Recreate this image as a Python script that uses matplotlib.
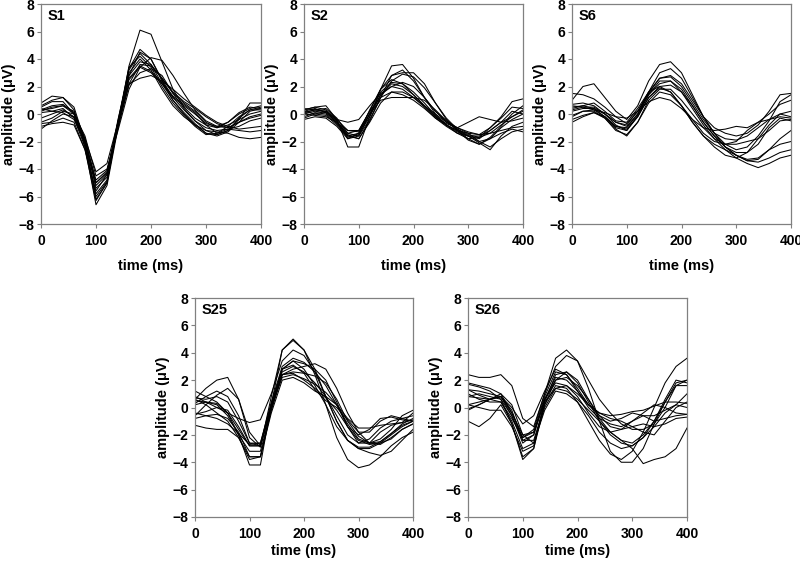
import numpy as np
import matplotlib
matplotlib.use("Agg")
import matplotlib.pyplot as plt

plt.rcParams['font.family'] = ['Liberation Sans', 'DejaVu Sans']
plt.rcParams['font.weight'] = 'bold'

time_ms = list(range(0, 401, 20))
x_ticks = [0, 100, 200, 300, 400]
y_ticks = [-8, -6, -4, -2, 0, 2, 4, 6, 8]
panel_names = ["S1", "S2", "S6", "S25", "S26"]

s1_traces = [
    [0.6, 1.0, 1.2, 0.5, -2.0, -6.2, -5.0, -0.8, 3.5, 6.1, 5.8, 3.8, 1.8, 0.5, -0.3, -0.8, -1.0, -0.6, 0.0, 0.4, 0.6],
    [0.8, 1.3, 1.2, 0.3, -2.4, -6.6, -5.2, -1.0, 2.8, 4.5, 4.0, 2.5, 1.2, 0.3, -0.5, -1.2, -1.5, -1.2, -0.3, 0.3, 0.5],
    [-1.1, -0.5, 0.0, -0.2, -2.0, -5.4, -4.6, -0.8, 2.8, 3.8, 3.6, 2.6, 1.5, 0.8, 0.2, -0.6, -1.0, -0.8, -0.4, 0.0, 0.2],
    [0.3, 0.6, 0.7, 0.1, -1.8, -5.0, -4.3, -1.0, 2.2, 3.6, 3.5, 2.6, 1.6, 0.9, 0.4, -0.2, -0.7, -1.0, -0.6, -0.3, -0.1],
    [-0.6, -0.3, 0.2, 0.0, -1.6, -4.5, -4.0, -1.2, 1.8, 3.4, 4.1, 3.9, 2.8, 1.5, 0.3, -0.5, -0.9, -1.0, -0.6, -0.2, 0.0],
    [0.3, 0.4, 0.6, 0.2, -1.8, -4.2, -3.6, -0.6, 2.2, 2.6, 2.8, 2.4, 1.8, 1.1, 0.5, -0.1, -0.6, -0.9, -1.1, -1.0, -0.9],
    [0.1, 0.2, 0.4, -0.3, -2.4, -5.8, -4.8, -0.6, 3.2, 4.4, 3.6, 2.2, 1.0, 0.0, -0.8, -1.4, -1.6, -1.3, -0.6, 0.2, 0.4],
    [-0.7, -0.6, -0.3, -0.6, -2.6, -5.6, -4.4, -0.4, 3.0, 4.0, 3.2, 1.8, 0.6, -0.2, -0.8, -1.2, -1.3, -1.4, -1.7, -1.8, -1.7],
    [0.5, 0.9, 0.9, 0.0, -2.2, -6.0, -4.9, -0.7, 3.3, 4.7, 4.0, 2.4, 1.0, 0.1, -0.7, -1.4, -1.5, -1.2, -0.4, 0.8, 0.8],
    [-0.3, 0.0, 0.3, -0.2, -2.1, -5.2, -4.4, -0.8, 2.5, 3.4, 3.0, 2.2, 1.2, 0.6, 0.0, -0.7, -0.9, -0.6, 0.1, 0.5, 0.4],
    [0.4, 0.2, 0.1, -0.4, -2.0, -4.8, -4.1, -0.9, 2.1, 3.0, 3.3, 2.8, 1.5, 0.4, -0.5, -1.0, -1.2, -1.1, -1.2, -1.3, -1.2],
    [-0.9, -0.7, -0.6, -0.8, -2.6, -6.3, -5.0, -0.5, 3.4, 4.2, 3.4, 2.0, 0.8, -0.1, -0.9, -1.5, -1.4, -0.9, -0.2, 0.3, 0.3],
    [0.2, 0.5, 0.6, 0.0, -1.9, -5.0, -4.2, -0.6, 2.6, 3.5, 3.1, 2.3, 1.3, 0.7, 0.1, -0.8, -1.4, -1.1, -0.9, -0.5, -0.3],
]

s2_traces = [
    [0.3, 0.5, 0.6, -0.4, -2.4, -2.4, -0.2, 1.8, 3.5, 3.6, 2.6, 1.2, 0.0, -0.8, -1.4, -1.8, -1.7, -1.0, -0.2, 0.9, 1.1],
    [0.2, 0.4, 0.1, -0.6, -1.4, -1.2, 0.2, 1.8, 2.8, 3.0, 3.0, 2.2, 0.8, -0.4, -1.2, -1.6, -1.8, -1.2, -0.6, -0.2, 0.2],
    [-0.2, 0.1, 0.0, -0.7, -1.6, -1.4, 0.0, 1.6, 2.3, 2.2, 1.6, 0.8, -0.1, -0.8, -1.2, -1.4, -1.5, -1.4, -1.2, -1.0, -0.9],
    [0.3, 0.5, 0.3, -0.4, -0.6, -0.4, 0.6, 1.5, 2.0, 2.3, 2.0, 1.2, 0.2, -0.6, -1.0, -0.6, -0.2, -0.4, -0.6, -0.5, -0.3],
    [-0.4, -0.2, -0.3, -0.9, -1.8, -1.4, 0.3, 1.8, 2.5, 2.2, 1.4, 0.6, -0.2, -0.8, -1.2, -1.8, -2.2, -1.8, -1.0, -0.4, 0.0],
    [0.2, 0.0, -0.1, -0.8, -1.7, -1.5, -0.2, 1.4, 2.2, 2.0, 1.4, 0.6, -0.2, -0.7, -1.0, -1.4, -2.0, -2.4, -1.8, -1.3, -1.1],
    [0.1, 0.3, 0.4, -0.3, -1.4, -1.6, -0.4, 1.2, 2.4, 2.9, 2.7, 1.9, 0.8, -0.3, -1.1, -1.6, -2.1, -2.6, -1.6, -0.9, -0.6],
    [0.0, 0.2, 0.1, -0.6, -1.5, -1.8, -0.6, 0.8, 1.6, 1.6, 1.2, 0.6, 0.0, -0.6, -1.1, -1.5, -1.7, -1.4, -0.8, -0.2, 0.3],
    [0.0, -0.1, -0.2, -0.6, -1.2, -1.3, 0.0, 1.0, 1.2, 1.2, 1.2, 1.0, 0.3, -0.5, -1.2, -1.9, -2.2, -1.7, -0.9, 0.0, 0.6],
    [0.1, 0.3, 0.2, -0.5, -1.6, -1.8, -0.5, 1.2, 2.8, 3.2, 2.4, 1.2, 0.2, -0.5, -1.0, -1.3, -1.5, -1.0, -0.3, 0.5, 0.4],
    [0.4, 0.3, 0.2, -0.5, -1.8, -1.6, 0.0, 1.4, 2.0, 1.8, 1.2, 0.5, -0.3, -0.9, -1.4, -1.6, -1.6, -1.2, -0.6, 0.2, 0.0],
    [-0.3, 0.0, 0.2, -0.4, -1.2, -1.2, 0.2, 1.2, 1.6, 1.4, 1.0, 0.4, -0.3, -0.8, -1.3, -1.6, -2.0, -1.8, -1.4, -1.1, -1.3],
]

s6_traces = [
    [1.0, 2.0, 2.2, 1.2, 0.2, -0.4, 0.6, 2.4, 3.6, 3.8, 3.0, 1.4, -0.2, -1.4, -2.2, -2.6, -2.4, -1.6, -0.5, 0.9, 1.4],
    [1.5, 1.4, 1.1, 0.5, -0.2, -0.7, 0.2, 1.5, 2.6, 2.8, 2.2, 1.0, -0.2, -1.0, -1.4, -1.6, -1.4, -0.8, 0.2, 1.4, 1.5],
    [0.4, 0.6, 0.4, -0.2, -0.9, -1.1, -0.2, 1.2, 1.9, 1.6, 0.6, -0.6, -1.6, -2.2, -2.6, -3.0, -3.3, -3.2, -2.6, -2.2, -2.0],
    [-0.6, -0.2, 0.1, -0.3, -1.2, -1.5, -0.6, 0.8, 1.6, 1.4, 0.6, -0.4, -1.4, -2.0, -2.2, -2.0, -1.2, -0.6, -0.4, -0.2, -0.3],
    [0.7, 0.8, 0.6, 0.0, -0.6, -0.9, 0.0, 1.4, 2.2, 2.4, 1.8, 0.6, -0.6, -1.6, -2.4, -3.0, -3.4, -3.5, -3.2, -2.8, -2.6],
    [-0.2, 0.2, 0.3, -0.2, -1.0, -1.2, -0.1, 1.4, 2.4, 2.4, 1.6, 0.4, -0.8, -1.8, -2.6, -3.2, -3.6, -3.9, -3.6, -3.2, -3.0],
    [0.2, 0.4, 0.4, 0.0, -0.6, -0.8, 0.2, 1.6, 2.6, 2.7, 2.0, 0.8, -0.4, -1.4, -1.8, -1.9, -1.6, -1.0, -0.4, 0.0, -0.2],
    [-0.4, -0.1, 0.1, -0.2, -0.9, -1.0, 0.0, 1.6, 3.0, 3.3, 2.6, 1.2, -0.2, -1.4, -2.4, -3.0, -3.4, -3.3, -2.6, -1.8, -1.2],
    [0.6, 0.5, 0.3, 0.1, -0.2, -0.3, 0.2, 0.9, 1.2, 1.0, 0.4, -0.4, -1.0, -1.2, -1.1, -0.9, -1.0, -0.6, 0.0, 0.7, 1.0],
    [0.3, 0.5, 0.5, 0.0, -0.8, -1.2, -0.2, 1.2, 2.0, 2.1, 1.6, 0.6, -0.6, -1.6, -2.4, -2.8, -2.8, -2.2, -1.0, -0.3, -0.5],
    [-0.1, 0.2, 0.2, -0.3, -1.1, -1.6, -0.6, 1.0, 1.8, 1.8, 1.0, 0.0, -1.0, -1.8, -2.2, -2.2, -2.0, -1.8, -1.2, -0.5, -0.4],
    [0.5, 0.6, 0.8, 0.2, -0.5, -0.6, 0.4, 1.6, 2.0, 1.6, 0.6, -0.6, -1.6, -2.4, -3.0, -3.2, -2.8, -1.8, -0.8, 0.0, 0.2],
]

s25_traces = [
    [0.6, 1.4, 2.0, 2.2, 0.6, -2.2, -2.9, 0.8, 4.2, 4.9, 4.2, 2.8, 0.8, -1.0, -2.4, -3.0, -3.0, -2.6, -2.0, -1.4, -1.0],
    [1.2, 0.8, 0.4, -0.4, -2.0, -4.2, -4.2, 0.2, 4.2, 5.0, 4.2, 2.4, 0.2, -2.2, -3.8, -4.4, -4.2, -3.6, -2.8, -2.2, -1.8],
    [-0.6, 0.2, 0.9, 1.4, 0.6, -1.8, -2.8, 0.0, 2.8, 3.4, 3.2, 2.8, 2.0, 0.4, -1.4, -2.6, -2.6, -1.8, -1.3, -1.1, -0.9],
    [-1.3, -1.5, -1.6, -1.6, -2.2, -3.6, -3.6, 0.0, 2.4, 2.6, 2.5, 2.3, 1.8, 0.6, -1.0, -2.1, -2.6, -2.5, -1.9, -1.2, -0.8],
    [0.6, 0.2, -0.4, -1.0, -2.2, -3.8, -3.6, -0.2, 2.6, 3.0, 2.6, 1.8, 0.8, -0.6, -2.0, -2.6, -2.3, -1.5, -1.0, -0.8, -0.6],
    [0.2, 0.4, 0.3, -0.4, -1.6, -2.8, -2.8, 0.0, 2.2, 2.4, 2.1, 1.7, 1.1, 0.2, -1.2, -2.3, -2.6, -2.3, -1.6, -0.6, -0.2],
    [0.8, 0.4, 0.0, -0.4, -0.8, -1.1, -0.9, 1.0, 3.4, 4.2, 3.8, 2.6, 0.8, -1.0, -2.4, -2.9, -2.9, -2.5, -1.9, -1.3, -1.0],
    [-0.5, -0.3, 0.0, -0.2, -1.4, -2.8, -2.8, 0.2, 2.8, 3.1, 2.5, 1.3, 0.5, 0.0, -0.9, -1.8, -1.8, -1.0, -0.6, -0.8, -1.0],
    [0.5, 0.4, 0.2, -0.6, -2.0, -3.2, -3.2, -0.2, 2.4, 2.8, 3.0, 3.2, 2.8, 1.4, -0.4, -1.8, -2.6, -2.7, -2.2, -1.6, -1.2],
    [-0.4, -0.6, -0.8, -1.2, -1.9, -2.7, -2.6, 0.2, 2.8, 3.4, 2.8, 1.6, 0.2, -1.4, -2.4, -3.0, -3.3, -3.5, -3.2, -2.4, -1.6],
    [0.3, 0.8, 1.2, 0.8, -0.6, -2.6, -2.8, 0.0, 2.4, 2.5, 2.0, 1.4, 0.7, -0.2, -1.4, -2.0, -1.6, -0.8, -0.7, -0.9, -1.0],
    [-0.8, -0.6, -0.5, -0.8, -1.8, -3.6, -3.6, -0.4, 2.0, 2.2, 1.8, 1.2, 0.8, 0.2, -0.8, -1.5, -1.5, -1.3, -1.2, -1.1, -0.4],
    [0.7, 0.6, 0.8, 0.4, -1.0, -2.6, -2.6, 0.4, 3.0, 3.6, 3.3, 2.6, 1.6, 0.2, -1.4, -2.4, -2.7, -2.6, -2.3, -1.6, -1.2],
]

s26_traces = [
    [2.4, 2.2, 2.2, 2.4, 1.6, -0.8, -1.4, 1.0, 3.0, 3.8, 3.4, 2.0, 0.6, -0.4, -1.2, -1.6, -1.6, -1.2, 0.0, 1.6, 2.0],
    [1.8, 1.6, 1.4, 1.0, -0.4, -2.2, -1.6, 1.0, 3.6, 4.2, 3.4, 1.4, -1.0, -3.2, -4.0, -4.0, -3.0, -1.2, 0.4, 1.8, 2.0],
    [1.3, 0.9, 0.6, 0.8, -0.6, -2.6, -2.0, 0.6, 2.2, 2.0, 1.2, 0.2, -0.4, -0.6, -0.5, -0.3, -0.2, 0.1, 0.4, 0.4, 0.3],
    [-1.0, -1.4, -0.8, 0.2, -1.2, -3.6, -3.0, 0.2, 1.6, 1.4, 0.4, -1.0, -2.4, -3.4, -3.8, -3.2, -1.8, 0.0, 1.8, 3.0, 3.6],
    [0.8, 1.0, 0.8, 0.6, -0.6, -2.4, -2.0, 0.6, 2.0, 2.2, 1.6, 0.6, -0.6, -1.4, -1.6, -1.4, -1.2, -1.4, -1.2, -0.8, -0.7],
    [1.0, 0.6, 0.4, 0.4, -0.8, -2.2, -1.8, 0.4, 1.4, 1.2, 0.6, -0.2, -1.0, -1.8, -2.4, -3.0, -4.1, -3.8, -3.6, -3.0, -1.5],
    [0.2, 0.4, 0.6, 0.4, -1.0, -3.0, -2.6, 0.0, 1.4, 1.6, 0.8, -0.4, -1.4, -1.8, -1.6, -1.0, -0.4, 0.2, 0.0, -0.4, -0.5],
    [-0.2, 0.2, 0.6, 0.8, -0.2, -2.4, -2.4, 0.2, 2.0, 2.6, 2.0, 0.6, -0.8, -1.8, -2.4, -2.6, -2.0, -1.0, 0.4, 1.6, 1.6],
    [1.3, 1.2, 1.0, 0.8, -0.4, -2.0, -1.8, 0.8, 2.6, 2.4, 1.4, 0.2, -0.6, -1.0, -0.8, -0.4, -0.6, -1.0, -0.8, -0.6, -0.5],
    [0.2, 0.0, -0.2, -0.2, -1.4, -3.2, -2.8, 0.4, 2.4, 2.6, 1.8, 0.4, -1.0, -2.0, -2.6, -2.8, -2.2, -1.0, 0.6, 2.0, 1.8],
    [1.7, 1.5, 1.2, 0.6, -1.2, -3.8, -3.0, 0.6, 1.8, 1.6, 1.0, 0.2, -0.4, -0.8, -1.0, -1.4, -1.8, -2.0, -1.0, 0.0, 0.4],
    [-0.1, 0.2, 0.6, 1.0, 0.2, -2.0, -2.6, -0.2, 1.2, 1.0, 0.4, -0.6, -1.8, -2.6, -3.0, -2.8, -2.2, -1.4, -0.4, 0.2, 1.0],
    [0.8, 0.7, 0.6, 0.8, 0.0, -1.2, -0.6, 1.2, 2.8, 2.4, 1.2, 0.0, -0.8, -1.2, -1.4, -1.0, -0.6, -0.6, -0.2, 0.2, 0.0],
]

all_traces = [s1_traces, s2_traces, s6_traces, s25_traces, s26_traces]

W, H = 800, 565
# axes rectangles in pixels: left, top, right, bottom
rects_px = [
    (41, 4, 261, 224),
    (304, 4, 523, 224),
    (572, 4, 791, 224),
    (195, 298, 413, 517),
    (468, 298, 687, 517),
]
xlabel_pads = [8, 8, 8, 2.5, 2.5]

fig = plt.figure(figsize=(W / 100, H / 100), dpi=100)
fig.patch.set_facecolor('white')

for name, traces, (l, t, r, b), xpad in zip(panel_names, all_traces, rects_px, xlabel_pads):
    ax = fig.add_axes([l / W, 1 - b / H, (r - l) / W, (b - t) / H])
    for tr in traces:
        ax.plot(time_ms, tr, color='black', lw=0.75)
    ax.set_xlim(0, 400)
    ax.set_ylim(-8, 8)
    ax.set_xticks(x_ticks)
    ax.set_yticks(y_ticks)
    ax.tick_params(axis='both', direction='out', length=3, width=0.8,
                   color='#808080', labelsize=10)
    ax.tick_params(axis='x', pad=4)
    ax.tick_params(axis='y', pad=2)
    for lab in ax.get_xticklabels() + ax.get_yticklabels():
        lab.set_fontweight('bold')
    for sp in ax.spines.values():
        sp.set_color('#808080')
        sp.set_linewidth(0.9)
    ax.set_xlabel('time (ms)', fontsize=10.5, fontweight='bold', labelpad=xpad)
    ax.set_ylabel('amplitude (μV)', fontsize=10.5, fontweight='bold', labelpad=1.5)
    ax.text(0.03, 0.945, name, transform=ax.transAxes, fontsize=10.5,
            fontweight='bold', va='center', ha='left')

fig.savefig('out.png', dpi=100, facecolor='white')
